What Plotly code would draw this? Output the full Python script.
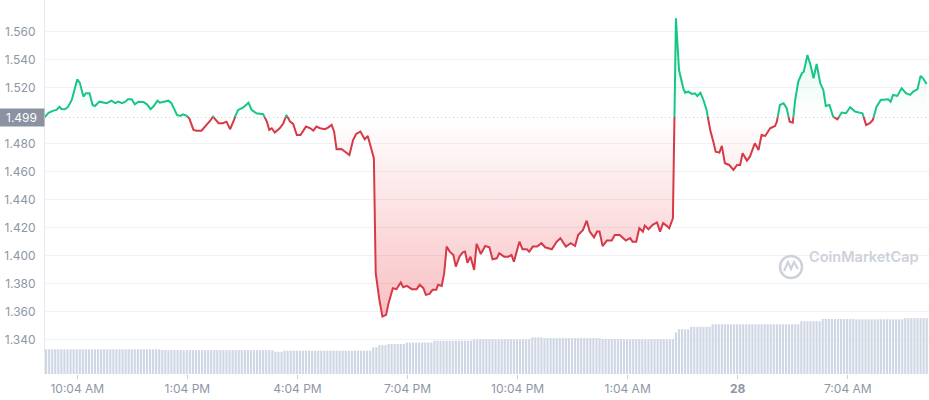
import pandas as pd
import plotly.graph_objects as go

open_price = 1.499
start = pd.Timestamp('2022-11-27 10:04')

# price: minutes after 10:04 AM (27th), USD
price_minutes = [
    -53, -47, -39, -34, -29, -26, -20, -15, -9, -4,
    0, 4, 10, 14, 20, 25, 29, 36, 43, 48,
    56, 62, 67, 73, 78, 83, 89, 94, 100, 108,
    114, 120, 125, 131, 135, 141, 149, 154, 163, 168,
    173, 179, 183, 190, 195, 203, 209, 217, 222, 227,
    231, 238, 244, 250, 256, 263, 271, 280, 285, 293,
    304, 310, 314, 318, 323, 331, 337, 342, 348, 353,
    359, 365, 374, 381, 386, 391, 397, 405, 410, 416,
    420, 424, 432, 441, 445, 451, 456, 463, 470, 475,
    481, 485, 488, 494, 499, 505, 509, 516, 522, 529,
    533, 539, 547, 555, 560, 566, 570, 576, 581, 587,
    590, 596, 600, 604, 609, 615, 619, 625, 630, 634,
    638, 643, 649, 653, 660, 667, 674, 679, 686, 690,
    698, 705, 710, 714, 723, 728, 735, 739, 745, 752,
    759, 765, 776, 784, 790, 799, 807, 814, 819, 827,
    833, 838, 845, 850, 854, 859, 866, 874, 879, 887,
    897, 904, 908, 914, 919, 925, 928, 934, 941, 948,
    953, 958, 964, 968, 974, 979, 984, 991, 994, 999,
    1005, 1010, 1014, 1019, 1024, 1029, 1035, 1040, 1044, 1050,
    1054, 1059, 1066, 1073, 1079, 1084, 1088, 1095, 1100, 1108,
    1114, 1119, 1125, 1133, 1141, 1144, 1149, 1155, 1160, 1165,
    1170, 1174, 1179, 1185, 1188, 1194, 1199, 1204, 1209, 1215,
    1220, 1224, 1230, 1236, 1243, 1250, 1257, 1264, 1272, 1277,
    1284, 1290, 1296, 1301, 1307, 1314, 1321, 1326, 1330, 1334,
    1341, 1348, 1355, 1362, 1367, 1374, 1379, 1383, 1389,
]
price_values = [
    1.4990, 1.5021, 1.5036, 1.5041, 1.5064, 1.5048, 1.5046, 1.5064, 1.5112, 1.5184,
    1.5260, 1.5236, 1.5136, 1.5160, 1.5160, 1.5076, 1.5069, 1.5100, 1.5093, 1.5089,
    1.5107, 1.5089, 1.5100, 1.5089, 1.5098, 1.5117, 1.5117, 1.5081, 1.5100, 1.5098,
    1.5081, 1.5046, 1.5069, 1.5107, 1.5093, 1.5100, 1.5107, 1.5089, 1.5005, 1.4998,
    1.5010, 1.4998, 1.4982, 1.4898, 1.4893, 1.4893, 1.4922, 1.4962, 1.4993, 1.4969,
    1.4946, 1.4946, 1.4957, 1.4903, 1.4974, 1.5041, 1.5057, 1.5093, 1.5041, 1.5017,
    1.5010, 1.4957, 1.4898, 1.4910, 1.4879, 1.4910, 1.4946, 1.5005, 1.4957, 1.4941,
    1.4862, 1.4862, 1.4922, 1.4910, 1.4893, 1.4922, 1.4910, 1.4903, 1.4915, 1.4934,
    1.4886, 1.4760, 1.4762, 1.4732, 1.4719, 1.4826, 1.4869, 1.4886, 1.4831, 1.4855,
    1.4755, 1.4696, 1.3875, 1.3684, 1.3565, 1.3577, 1.3661, 1.3768, 1.3761, 1.3808,
    1.3775, 1.3784, 1.3761, 1.3761, 1.3792, 1.3768, 1.3720, 1.3727, 1.3756, 1.3756,
    1.3792, 1.3784, 1.3875, 1.4065, 1.4029, 1.4005, 1.3922, 1.3993, 1.4022, 1.4029,
    1.3950, 1.3993, 1.3898, 1.4084, 1.4012, 1.4069, 1.4060, 1.3974, 1.3981, 1.4017,
    1.3993, 1.3993, 1.4005, 1.3957, 1.4100, 1.4046, 1.4046, 1.4029, 1.4065, 1.4065,
    1.4089, 1.4060, 1.4046, 1.4100, 1.4125, 1.4065, 1.4089, 1.4069, 1.4148, 1.4184,
    1.4250, 1.4172, 1.4131, 1.4172, 1.4172, 1.4069, 1.4108, 1.4108, 1.4148, 1.4148,
    1.4108, 1.4125, 1.4100, 1.4100, 1.4196, 1.4172, 1.4215, 1.4189, 1.4220, 1.4237,
    1.4172, 1.4232, 1.4213, 1.4196, 1.4267, 1.5696, 1.5326, 1.5195, 1.5164, 1.5171,
    1.5155, 1.5160, 1.5141, 1.5164, 1.5112, 1.5041, 1.4898, 1.4815, 1.4743, 1.4736,
    1.4784, 1.4660, 1.4648, 1.4613, 1.4648, 1.4648, 1.4731, 1.4679, 1.4707, 1.4803,
    1.4755, 1.4862, 1.4855, 1.4910, 1.4926, 1.4957, 1.5076, 1.5089, 1.5053, 1.4957,
    1.4950, 1.5112, 1.5243, 1.5303, 1.5314, 1.5433, 1.5362, 1.5267, 1.5369, 1.5231,
    1.5183, 1.5069, 1.5076, 1.4993, 1.4974, 1.5022, 1.5017, 1.5060, 1.5029, 1.5022,
    1.5017, 1.4933, 1.4946, 1.4969, 1.5064, 1.5112, 1.5117, 1.5117, 1.5100, 1.5148,
    1.5141, 1.5196, 1.5160, 1.5148, 1.5172, 1.5189, 1.5284, 1.5267, 1.5226,
]

# volume ($M) held at each level for a number of 5-minute bars
volume_levels = [8.9, 8.6, 8.0, 8.4, 9.6, 10.4, 10.8, 11.3, 12.0, 12.5, 13.2,
                 12.9, 12.6, 12.5, 15.0, 16.1, 17.0, 17.9, 19.0, 19.8, 19.7, 20.1]
volume_runs = [38, 37, 3, 29, 2, 3, 6, 9, 13, 19, 4,
               19, 7, 17, 1, 4, 7, 29, 7, 11, 16, 8]

tick_minutes = [0, 180, 360, 540, 720, 900, 1080, 1260]
tick_labels = ['10:04 AM', '1:04 PM', '4:04 PM', '7:04 PM', '10:04 PM',
               '1:04 AM', '<b>28</b>', '7:04 AM']
low_ticks = [1.34, 1.36, 1.38, 1.40, 1.42, 1.44, 1.46, 1.48]
high_ticks = [1.52, 1.54, 1.56]

GREEN = '#16c784'
RED = '#d63a47'
GRID = '#eff2f5'
LABEL = '#8e96a5'
MARK = '#cdd2da'
FONT = 'Inter, Roboto, sans-serif'

times = start + pd.to_timedelta(price_minutes, unit='min')
vol_values = [lv for lv, n in zip(volume_levels, volume_runs) for _ in range(n)]
vol_times = pd.date_range(start - pd.Timedelta(minutes=51), periods=len(vol_values), freq='5min')

y_low, y_high = 1.3155, 1.5826
split = (open_price - y_low) / (y_high - y_low)
base_x = [times[0], times[-1]]

fig = go.Figure()

# below the open: red
fig.add_trace(go.Scatter(x=base_x, y=[open_price] * 2, mode='lines',
                         line=dict(width=0), yaxis='y', hoverinfo='skip'))
fig.add_trace(go.Scatter(
    x=times, y=price_values, mode='lines', yaxis='y',
    line=dict(color=RED, width=2), fill='tonexty',
    fillgradient=dict(type='vertical', start=min(price_values), stop=open_price,
                      colorscale=[[0, 'rgba(234,57,67,0.32)'], [1, 'rgba(234,57,67,0.0)']]),
))

# above the open: green
fig.add_trace(go.Scatter(x=base_x, y=[open_price] * 2, mode='lines',
                         line=dict(width=0), yaxis='y2', hoverinfo='skip'))
fig.add_trace(go.Scatter(
    x=times, y=price_values, mode='lines', yaxis='y2',
    line=dict(color=GREEN, width=2), fill='tonexty',
    fillgradient=dict(type='vertical', start=open_price, stop=max(price_values),
                      colorscale=[[0, 'rgba(22,199,132,0.0)'], [1, 'rgba(22,199,132,0.16)']]),
))

fig.add_trace(go.Bar(x=vol_times, y=vol_values, yaxis='y3',
                     marker=dict(color='#cfd6e4', line=dict(width=0))))

yax = dict(showgrid=True, gridcolor=GRID, gridwidth=1, zeroline=False,
           showline=True, linecolor='#e6e9ee', tickformat='.3f',
           ticks='outside', ticklen=6, tickcolor='rgba(0,0,0,0)',
           tickfont=dict(color=LABEL, size=12, family=FONT))

fig.update_layout(
    width=929, height=400,
    margin=dict(l=45, r=0, t=0, b=26),
    paper_bgcolor='white', plot_bgcolor='white',
    showlegend=False, bargap=0.3,
    font=dict(family=FONT, color=LABEL),
    xaxis=dict(
        type='date', anchor='y',
        range=[start - pd.Timedelta(minutes=52.8), start + pd.Timedelta(minutes=1392.8)],
        tickvals=[start + pd.Timedelta(minutes=m) for m in tick_minutes],
        ticktext=tick_labels,
        ticks='outside', ticklen=4, tickcolor='#c9ced6',
        showgrid=False, zeroline=False, showline=False,
        tickfont=dict(color=LABEL, size=12, family=FONT),
    ),
    yaxis=dict(yax, domain=[0, split], range=[y_low, open_price], tickvals=low_ticks),
    yaxis2=dict(yax, domain=[split, 1], range=[open_price, y_high], tickvals=high_ticks),
    yaxis3=dict(overlaying='y', range=[0, 92.5], visible=False),
)

# dotted open-price line and its label
fig.add_shape(type='line', xref='paper', x0=0, x1=1, yref='y', y0=open_price, y1=open_price,
              line=dict(color='#a6aebd', width=1, dash='1px,3px'))
fig.add_annotation(xref='paper', x=0, xanchor='right', yref='y', y=open_price,
                   text='1.499', showarrow=False, bgcolor='#8b92a2',
                   width=41, height=13, borderpad=2,
                   font=dict(color='white', size=12, family=FONT))

# watermark
fig.add_shape(type='circle', xref='paper', yref='paper', xsizemode='pixel', ysizemode='pixel',
              xanchor=0.8439, yanchor=0.2861, x0=-11, x1=11, y0=-11, y1=11,
              line=dict(color=MARK, width=2.5))
fig.add_shape(type='path', xref='paper', yref='paper', xsizemode='pixel', ysizemode='pixel',
              xanchor=0.8439, yanchor=0.2861,
              path='M -7,-4 L -3,5 L 0,-2 L 3,5 L 7,-2',
              line=dict(color=MARK, width=2.2))
fig.add_annotation(xref='paper', yref='paper', x=0.9265, y=0.2861, xanchor='center',
                   showarrow=False, text='CoinMarketCap',
                   font=dict(color=MARK, size=14.5, family=FONT, weight=600))

fig.write_html('out.html', config={'displayModeBar': False},
               post_script="document.body.style.margin='0';")
